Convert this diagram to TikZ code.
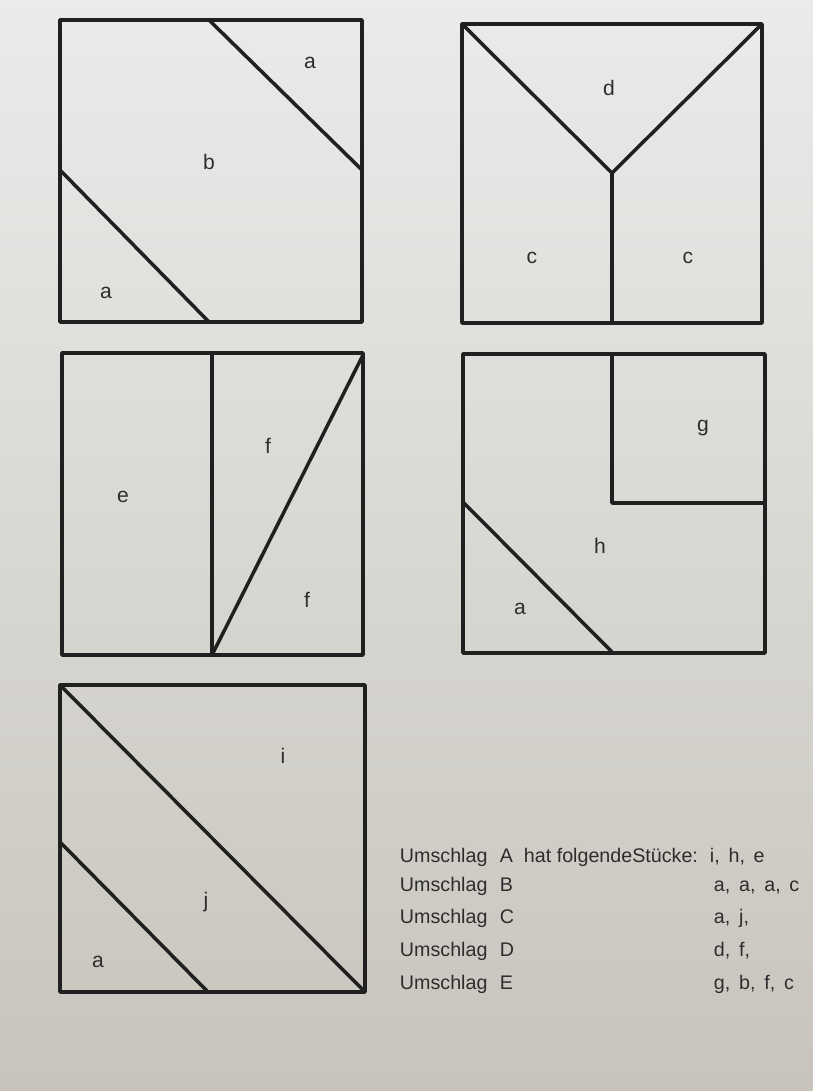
\documentclass[tikz,border=0pt]{standalone}
\usepackage{fontspec}
\setmainfont{Liberation Sans}
\usepackage{tikz}
\definecolor{inkline}{RGB}{32,32,32}
\definecolor{inktext}{RGB}{45,45,45}
\definecolor{papertop}{RGB}{234,235,234}
\definecolor{paperbottom}{RGB}{200,196,188}
\tikzset{cut/.style={line width=2.5pt,draw=inkline,line join=round},
 piece/.style={text=inktext,font=\fontsize{15}{18}\selectfont},
 note/.style={text=inktext,anchor=base west,font=\fontsize{14}{17}\selectfont}}

\begin{document}
\begin{tikzpicture}[x=0.025cm,y=-0.025cm]
\shade[top color=papertop,bottom color=paperbottom] (0,0) rectangle (813,1091);
\useasboundingbox (0,0) rectangle (813,1091);
% square with a, b, a
\draw[cut] (60,20) rectangle (362,322);
\draw[cut] (209,20)--(362,170);
\draw[cut] (60,170)--(209,322);
\node[piece] (a1) at (310,63) {a};
\node[piece] (b1) at (209,162) {b};
\node[piece] (a2) at (106,293) {a};
% square with d, c, c
\draw[cut] (462,24) rectangle (762,323);
\coordinate (ymid) at (612,173);
\draw[cut] (462,24)--(ymid)--(762,24);
\draw[cut] (ymid)--(612,323);
\node[piece] (d1) at (609,88) {d};
\node[piece] (c1) at (532,258) {c};
\node[piece] (c2) at (688,258) {c};
% square with e, f, f
\draw[cut] (62,353) rectangle (363,655);
\draw[cut] (212,353)--(212,655)--(363,355);
\node[piece] (e1) at (123,497) {e};
\node[piece] (f1) at (268,446) {f};
\node[piece] (f2) at (307,600) {f};
% square with g, h, a
\draw[cut] (463,354) rectangle (765,653);
\draw[cut] (612,354)--(612,503)--(765,503);
\draw[cut] (463,502)--(613,653);
\node[piece] (g1) at (703,428) {g};
\node[piece] (h1) at (600,546) {h};
\node[piece] (a3) at (520,609) {a};
% square with i, j, a
\draw[cut] (60,685) rectangle (365,992);
\draw[cut] (60,685)--(365,992);
\draw[cut] (60,842)--(208,992);
\node[piece] (i1) at (283,756) {i};
\node[piece] (j1) at (206,902) {j};
\node[piece] (a4) at (98,962) {a};
% list of envelopes
\node[note] (uA) at (395,862) {Umschlag};
\node[note] (lA) at (495,862) {A};
\node[note] (hat) at (519,862) {hat folgendeStücke:};
\node[note] (pA) at (705,862) {i,\, h,\, e};
\foreach \env/\parts/\yy in {B/{a,\, a,\, a,\, c}/891,C/{a,\, j,}/923,D/{d,\, f,}/956,E/{g,\, b,\, f,\, c}/989}{
  \node[note] (u\env) at (395,\yy) {Umschlag};
  \node[note] (l\env) at (495,\yy) {\env};
  \node[note] (p\env) at (709,\yy) {\parts};
}
\end{tikzpicture}
\end{document}
